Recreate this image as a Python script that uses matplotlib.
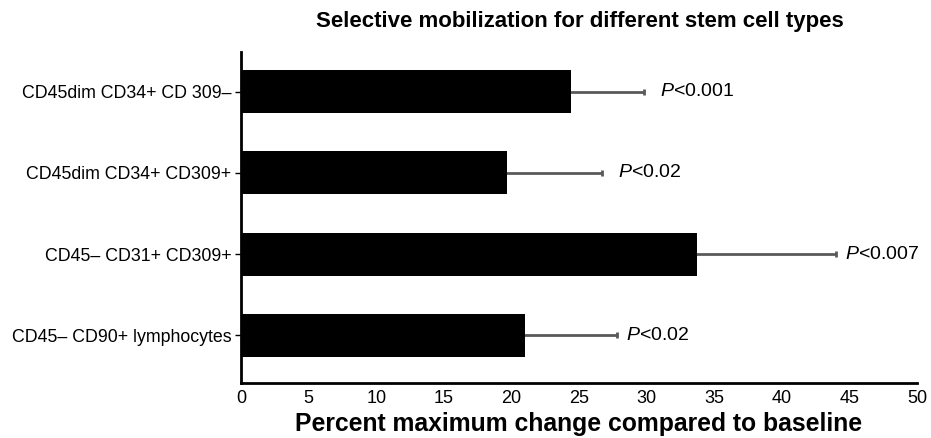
import matplotlib
matplotlib.use("Agg")
import matplotlib.pyplot as plt

categories = ["CD45dim CD34+ CD 309–", "CD45dim CD34+ CD309+",
              "CD45– CD31+ CD309+", "CD45– CD90+ lymphocytes"]
values = [24.4, 19.7, 33.7, 21.0]
errors = [5.4, 7.0, 10.3, 6.8]
pvalues = ["0.001", "0.02", "0.007", "0.02"]
label_x = [31.0, 27.9, 44.7, 28.5]

plt.rcParams['font.family'] = ['Liberation Sans', 'DejaVu Sans']
plt.rcParams['mathtext.fontset'] = 'custom'
plt.rcParams['mathtext.it'] = 'Liberation Sans:italic'

fig = plt.figure(figsize=(9.31, 4.38), dpi=100)
ax = fig.add_axes([241/931, 1-383/438, (917-241)/931, (383-52)/438])

pos = list(range(len(categories)))
ax.barh(pos, values, height=0.53, color='black', zorder=3)
ax.errorbar(values, pos, xerr=errors, fmt='none', ecolor='#5a5a5a',
            elinewidth=2, capsize=2.5, capthick=2, zorder=2)
for x, y, p in zip(label_x, pos, pvalues):
    ax.text(x, y, r"$\mathit{P}$" + "<" + p, va='center', ha='left', fontsize=14)

ax.set_xlim(0, 50)
ax.set_ylim(3.59, -0.49)
ax.set_yticks(pos)
ax.set_yticklabels(categories, fontsize=12.8)
ax.set_xticks(range(0, 51, 5))
ax.tick_params(axis='x', length=0, labelsize=13, pad=5)
ax.tick_params(axis='y', length=4, width=1, pad=3)
for s in ['top', 'right']:
    ax.spines[s].set_visible(False)
for s in ['left', 'bottom']:
    ax.spines[s].set_linewidth(2)
ax.set_xlabel("Percent maximum change compared to baseline", fontsize=17.8,
              fontweight='bold', labelpad=4)
fig.text(580/931, 1-22/438, "Selective mobilization for different stem cell types",
         ha='center', va='center', fontsize=16, fontweight='bold')

fig.savefig("out.png", dpi=100)
